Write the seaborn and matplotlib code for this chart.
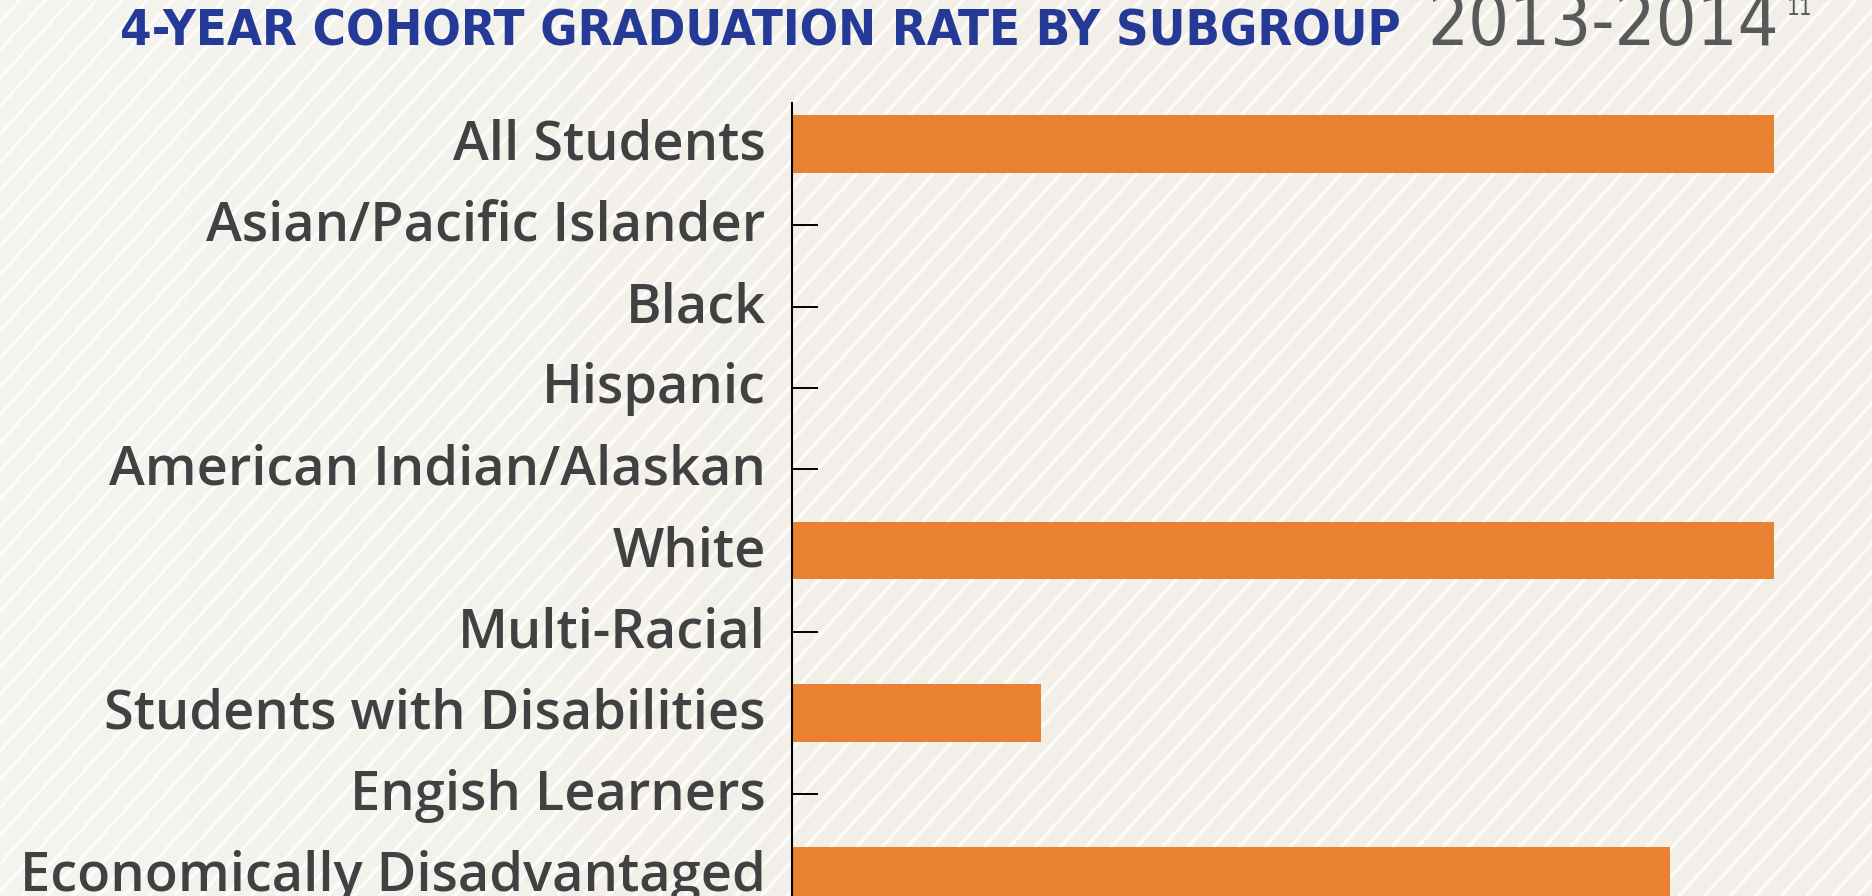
import numpy as np
import pandas as pd
import seaborn as sns
import matplotlib.pyplot as plt
from matplotlib.colors import LinearSegmentedColormap
from matplotlib.transforms import ScaledTranslation

categories = ['All Students', 'Asian/Pacific Islander', 'Black', 'Hispanic',
              'American Indian/Alaskan', 'White', 'Multi-Racial',
              'Students with Disabilities', 'Engish Learners',
              'Economically Disadvantaged']
rates = [94.0, 0, 0, 0, 0, 94.0, 0, 23.8, 0, 84.0]

title_main = '4-YEAR COHORT GRADUATION RATE BY SUBGROUP'
title_year = '2013-2014'
title_note = '11'

df = pd.DataFrame({'group': categories, 'rate': rates})

W, H = 1872, 896
sns.set_theme(style='white')
plt.rcParams['font.family'] = ['Open Sans', 'Lato', 'DejaVu Sans']

fig = plt.figure(figsize=(W / 100, H / 100), dpi=100)

# background: light paper with diagonal white stripes
bg = fig.add_axes([0, 0, 1, 1], zorder=-5)
grad = np.linspace(0, 1, 256).reshape(1, -1)
cmap = LinearSegmentedColormap.from_list('paper', ['#f5f4ef', '#f1efe7', '#f1efe7'])
bg.imshow(grad, extent=[0, W, 0, H], aspect='auto', cmap=cmap)
slope = 1.1
for k in range(-40, 120):
    xt = 20 + 25.5 * k
    x0 = xt - H / slope
    bg.plot([x0, xt], [0, H], color='#fdfcfa', lw=2.4, solid_capstyle='butt')
bg.set_xlim(0, W)
bg.set_ylim(0, H)
bg.axis('off')

# main chart
top = 1 - 103.3 / H
bottom = 1 - 916.4 / H
left = 792 / W
right = 1837 / W
ax = fig.add_axes([left, bottom, right - left, top - bottom])
ax.set_facecolor('none')
sns.barplot(data=df, x='rate', y='group', orient='h', color='#e98230',
            width=0.71, linewidth=0, saturation=1, ax=ax)
ax.set_xlim(0, 100)
ax.set_ylim(9.5, -0.5)
ax.set_xlabel('')
ax.set_ylabel('')
ax.set_xticks([])
for s in ['top', 'right', 'bottom']:
    ax.spines[s].set_visible(False)
ax.spines['left'].set_color('black')
ax.spines['left'].set_linewidth(1.5)
ax.tick_params(axis='y', direction='in', length=18.7, width=1.4, color='black',
               pad=19, labelsize=39, labelcolor='#414042', left=True)
lift = ScaledTranslation(0, 5 / 100, fig.dpi_scale_trans)
for lab in ax.get_yticklabels():
    lab.set_fontweight('semibold')
    lab.set_transform(lab.get_transform() + lift)

# title, fitted to the widths in the original
renderer = fig.canvas.get_renderer()
cond = ['DejaVu Sans', 'Liberation Sans']


def fitted_text(x_px, y_px, s, width_px, **kw):
    t = fig.text(x_px / W, 1 - y_px / H, s, ha='left', va='baseline',
                 fontsize=60, fontstretch='condensed', family=cond, **kw)
    w = t.get_window_extent(renderer).width
    t.set_fontsize(60 * width_px / w)
    return t


fitted_text(120, 45, title_main, 1283, color='#253a96', fontweight='bold')
fitted_text(1427, 45, title_year, 352, color='#58595b', fontweight='light')
fitted_text(1787, 15, title_note, 26, color='#58595b')

fig.savefig('out.png', dpi=100)
